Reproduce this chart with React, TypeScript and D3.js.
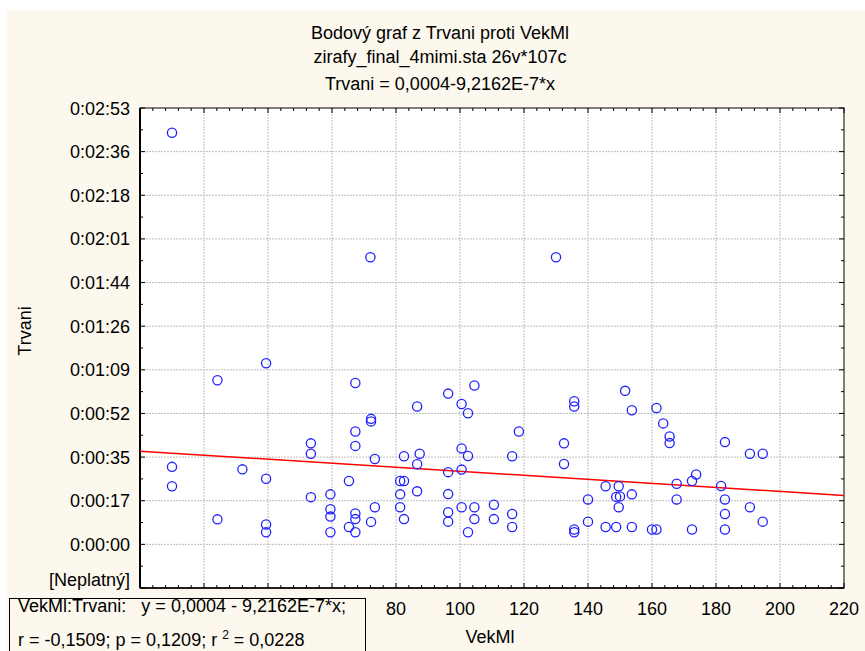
import React from 'react';
import * as d3 from 'd3';

// VekMl (months) and Trvani (seconds)
const vekMl = [
  10, 72, 130, 39.4, 24.2, 10, 32, 39.4, 10, 24.2, 39.4, 39.4,
  67.3, 72.2, 72.2, 67.3, 53.4, 67.3, 53.4, 82.5, 73.4, 65.3, 81.3, 82.5,
  53.4, 59.5, 81.3, 73.4, 81.3, 59.5, 59.5, 67.3, 67.3, 82.5, 72.2, 65.3,
  59.5, 67.3, 104.5, 96.3, 86.6, 100.5, 102.5, 118.4, 100.5, 87.4, 102.5, 116.3,
  86.6, 96.3, 100.5, 86.6, 96.3, 100.5, 104.5, 110.6, 96.3, 96.3, 104.5, 110.6,
  116.3, 116.3, 102.5, 151.6, 135.7, 135.7, 153.7, 161.4, 163.5, 132.5, 165.5, 165.5,
  132.5, 145.5, 149.6, 148.8, 150, 153.7, 140, 149.6, 140, 135.7, 135.7, 145.5,
  148.8, 153.7, 160, 161.4, 182.8, 190.6, 194.6, 173.8, 172.5, 167.7, 181.6, 167.7,
  182.8, 190.6, 182.8, 194.6, 172.5, 182.8,
];
const trvani = [
  163, 113.7, 113.7, 71.7, 65, 30.7, 29.7, 26, 23, 9.9, 7.9, 4.8,
  63.9, 49.7, 48.7, 44.7, 40, 39, 35.9, 34.9, 33.8, 25.1, 25.1, 25.1,
  18.7, 19.8, 19.8, 14.7, 14.7, 13.9, 11, 12.2, 10, 10, 8.9, 6.9,
  4.8, 4.8, 62.9, 59.7, 54.6, 55.6, 51.9, 44.7, 38, 35.9, 35, 34.9,
  31.7, 28.6, 29.6, 21, 19.9, 14.7, 14.7, 15.7, 12.7, 9, 10, 10,
  12, 6.9, 4.8, 60.8, 56.7, 54.6, 53.1, 54, 47.9, 40, 42.7, 40.1,
  31.8, 23, 23, 18.8, 19, 19.8, 17.8, 14.7, 9, 5.9, 4.8, 6.9,
  6.9, 6.9, 5.9, 5.9, 40.5, 35.9, 35.9, 27.7, 25.1, 24, 23.1, 17.8,
  17.8, 14.7, 12, 9, 5.9, 5.9,
];

// fitted line, in days (Statistica time unit)
const intercept = 0.000427;
const slope = -9.2162e-7;
const DAY = 86400;

const xTicks = [0, 20, 40, 60, 80, 100, 120, 140, 160, 180, 200, 220];
const yTicks = [-17.28, 0, 17.28, 34.56, 51.84, 69.12, 86.4, 103.68, 120.96, 138.24, 155.52, 172.8];
const yTickLabels = ['[Neplatný]', '0:00:00', '0:00:17', '0:00:35', '0:00:52', '0:01:09', '0:01:26',
  '0:01:44', '0:02:01', '0:02:18', '0:02:36', '0:02:53'];

const titleLines = [
  'Bodový graf z Trvani proti VekMl',
  'zirafy_final_4mimi.sta 26v*107c',
  'Trvani = 0,0004-9,2162E-7*x',
];
const titleY = [39, 63, 90];

const W = 865;
const H = 651;
const left = 140, right = 844, top = 108, bottom = 588;
const font = '"Liberation Sans", Arial, sans-serif';

export default function App() {
  const x = d3.scaleLinear().domain([0, 220]).range([left, right]);
  const y = d3.scaleLinear().domain([-17.28, 172.8]).range([bottom, top]);

  const xMinor = d3.range(0, 221, 4).filter(v => v % 20 !== 0);
  const yMinor = d3.range(0, yTicks.length - 1).map(i => (yTicks[i] + yTicks[i + 1]) / 2);

  const fitY = (v: number) => (intercept + slope * v) * DAY;
  const line = d3.line<number>().x(v => x(v)).y(v => y(fitY(v)));

  return (
    <svg width={W} height={H} style={{ position: 'absolute', left: 0, top: 0 }} fontFamily={font}>
      <rect x={7} y={10} width={W - 7} height={H - 10} fill="#fcf8ed" />
      {titleLines.map((t, i) => (
        <text key={t} x={440} y={titleY[i]} fontSize={18} textAnchor="middle" fill="#000">{t}</text>
      ))}
      <rect x={left} y={top} width={right - left} height={bottom - top} fill="#fff" />

      {/* grid */}
      <g stroke="#bdbdbd" strokeWidth={1} strokeDasharray="2,1">
        {xTicks.slice(1, -1).map(v => (
          <line key={'gx' + v} x1={x(v)} x2={x(v)} y1={top} y2={bottom} />
        ))}
        {yTicks.slice(1, -1).map(v => (
          <line key={'gy' + v} x1={left} x2={right} y1={y(v)} y2={y(v)} />
        ))}
      </g>

      {/* ticks on all four sides, pointing in */}
      <g stroke="#000" strokeWidth={1}>
        {xTicks.map(v => (
          <g key={'tx' + v}>
            <line x1={x(v)} x2={x(v)} y1={bottom} y2={bottom - 5} />
            <line x1={x(v)} x2={x(v)} y1={top} y2={top + 5} />
          </g>
        ))}
        {xMinor.map(v => (
          <g key={'mx' + v}>
            <line x1={x(v)} x2={x(v)} y1={bottom} y2={bottom - 3} />
            <line x1={x(v)} x2={x(v)} y1={top} y2={top + 3} />
          </g>
        ))}
        {yTicks.map(v => (
          <g key={'ty' + v}>
            <line x1={left} x2={left + 5} y1={y(v)} y2={y(v)} />
            <line x1={right} x2={right - 5} y1={y(v)} y2={y(v)} />
          </g>
        ))}
        {yMinor.map(v => (
          <g key={'my' + v}>
            <line x1={left} x2={left + 3} y1={y(v)} y2={y(v)} />
            <line x1={right} x2={right - 3} y1={y(v)} y2={y(v)} />
          </g>
        ))}
      </g>
      <rect x={left} y={top} width={right - left} height={bottom - top} fill="none" stroke="#000" strokeWidth={1} />
      <line x1={left} x2={left} y1={top} y2={bottom} stroke="#000" strokeWidth={2} />
      <line x1={left} x2={right} y1={bottom} y2={bottom} stroke="#000" strokeWidth={1.5} />

      <path d={line([0, 220]) || ''} stroke="#ff0000" strokeWidth={1.5} fill="none" />

      <g fill="none" stroke="#2020ff" strokeWidth={1.3}>
        {vekMl.map((v, i) => (
          <circle key={i} cx={x(v)} cy={y(trvani[i])} r={4.6} />
        ))}
      </g>

      {/* axis labels */}
      <g fontSize={18} fill="#000">
        {yTicks.map((v, i) => (
          <text key={'ly' + v} x={130} y={i === 0 ? y(v) - 2 : y(v) + 6.5} textAnchor="end">{yTickLabels[i]}</text>
        ))}
        {/* labels below 80 sit under the regression box */}
        {xTicks.filter(v => v >= 80).map(v => (
          <text key={'lx' + v} x={x(v)} y={615} textAnchor="middle">{v}</text>
        ))}
        <text x={490} y={643} textAnchor="middle">VekMl</text>
        <text transform="translate(31,331) rotate(-90)" textAnchor="middle">Trvani</text>
      </g>

      <rect x={9.5} y={598.5} width={356} height={60} fill="#fcf8ed" stroke="#000" strokeWidth={1} />
      <g fontSize={18} fill="#000">
        <text x={18} y={612} xmlSpace="preserve">{'VekMl:Trvani:   y = 0,0004 - 9,2162E-7*x;'}</text>
        <text x={18} y={646}>
          r = -0,1509; p = 0,1209; r <tspan fontSize={12} dy={-7}>2</tspan><tspan dy={7}> = 0,0228</tspan>
        </text>
      </g>
    </svg>
  );
}
